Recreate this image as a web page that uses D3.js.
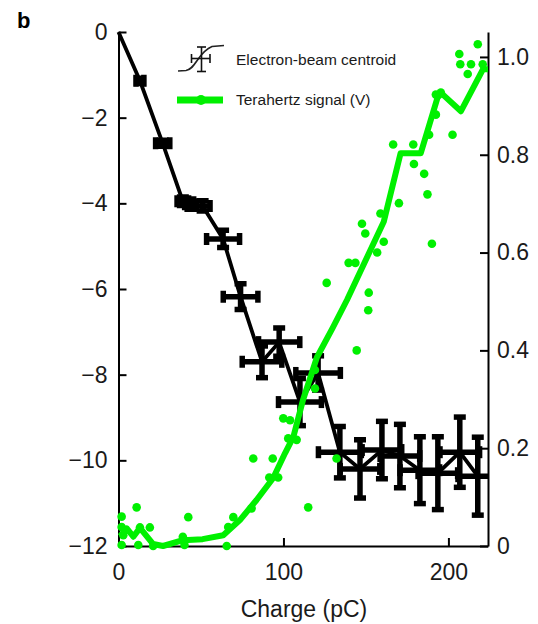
<!DOCTYPE html>
<html>
<head>
<meta charset="utf-8">
<script src="https://cdn.jsdelivr.net/npm/d3@7"></script>
<style>
  body { margin: 0; background: #fff; }
  svg { font-family: "Liberation Sans", Arial, sans-serif; }
</style>
</head>
<body>
<div id="chart"></div>
<script>
// electron-beam centroid (left axis) with x/y error bars
let beamCharge = [0, 13.0, 26.8, 39, 43.6, 51, 63.4, 74, 87, 97.4, 110, 121, 134.2, 146.4, 159.7, 170.6, 182.7, 193.6, 206.9, 217.8];
let beamCentroid = [0, -1.14, -2.6, -3.95, -4.02, -4.06, -4.83, -6.18, -7.7, -7.24, -8.64, -7.96, -9.81, -10.2, -9.76, -9.9, -10.23, -10.3, -9.81, -10.37];
let beamChargeErr = [0, 2.4, 4.3, 3.5, 3.5, 4.5, 10, 10.5, 12, 12.5, 13, 13.5, 13, 12, 12, 12, 12, 12, 12, 12];
let beamCentroidErr = [0, 0.06, 0.07, 0.1, 0.12, 0.12, 0.2, 0.3, 0.37, 0.33, 0.55, 0.4, 0.6, 0.68, 0.67, 0.74, 0.78, 0.85, 0.82, 0.91];

// terahertz signal line (right axis)
let thzLineCharge = [1, 5, 9, 13, 21, 27, 39, 51, 63.5, 73.6, 83.7, 93.8, 101, 106, 111.8, 120.3, 130, 138.5, 160.8, 171, 183.2, 193.4, 196, 207.6, 221, 224];
let thzLineV = [0.02, 0.036, 0.019, 0.037, 0.004, 0.0, 0.012, 0.014, 0.022, 0.053, 0.094, 0.139, 0.19, 0.223, 0.298, 0.386, 0.447, 0.503, 0.663, 0.803, 0.803, 0.917, 0.925, 0.889, 0.975, 0.975];

// terahertz signal raw points
let thzDotCharge = [1.9, 1.9, 2.9, 1.9, 11, 13, 19, 12, 21, 42.3, 39, 40, 65.6, 69.6, 66.5, 81.7, 93.5, 91.4, 96.8, 102.9, 108, 104, 151.4, 144.4, 119.1, 119.1, 99.9, 115, 132.2, 80.7,
  217.8, 206.6, 207.2, 213.7, 220.8, 211.7, 192.4, 195.4, 192.4, 188.3, 202.5, 166.5, 178.7, 179.1, 185.3, 187.3, 170, 190, 158.8, 147.6, 149.6, 160.8, 156.8, 139.5, 143.6, 126.2, 151.7];
let thzDotV = [0.06, 0.039, 0.022, 0.002, 0.079, 0.038, 0.038, 0.002, 0, 0.059, 0.019, 0.002, 0, 0.059, 0.039, 0.179, 0.179, 0.14, 0.14, 0.22, 0.217, 0.257, 0.482, 0.4, 0.36, 0.322, 0.261, 0.079, 0.179, 0.077,
  1.026, 1.006, 0.985, 0.985, 0.985, 0.965, 0.923, 0.927, 0.882, 0.841, 0.841, 0.821, 0.821, 0.781, 0.761, 0.719, 0.701, 0.618, 0.68, 0.659, 0.639, 0.622, 0.6, 0.579, 0.579, 0.538, 0.518];

let xTicks = [0, 100, 200];
let leftTicks = [0, -2, -4, -6, -8, -10, -12];
let rightTicks = [0, 0.2, 0.4, 0.6, 0.8, 1.0];

let green = "#00f000";

let svg = d3.select("#chart").append("svg")
    .attr("width", 538)
    .attr("height", 624);

let x = d3.scaleLinear().domain([0, 224]).range([118.5, 488]);
let yL = d3.scaleLinear().domain([-12, 0]).range([546, 32]);
let yR = d3.scaleLinear().domain([0, 1.051]).range([546, 32]);

// clip marks to plot area
svg.append("clipPath").attr("id", "plotClip")
    .append("rect")
    .attr("x", x.range()[0]).attr("y", 20)
    .attr("width", x.range()[1] - x.range()[0]).attr("height", 540);

// Axes (ticks pointing inward)
let axisL = d3.axisLeft(yL).tickValues(leftTicks).tickSizeInner(-8).tickSizeOuter(0).tickPadding(11).tickFormat(d3.format("d"));
let axisR = d3.axisRight(yR).tickValues(rightTicks).tickSizeInner(-8).tickSizeOuter(0).tickPadding(9)
    .tickFormat(d => d === 0 ? "0" : d3.format(".1f")(d));
let axisB = d3.axisBottom(x).tickValues(xTicks).tickSizeInner(-8).tickSizeOuter(0).tickPadding(18);

function styleAxis(g) {
    g.select(".domain").attr("stroke", "#000").attr("stroke-width", 2);
    g.selectAll(".tick line").attr("stroke", "#000").attr("stroke-width", 2);
    g.selectAll(".tick text").attr("fill", "#1a1a1a").style("font-size", "23px");
    g.attr("font-family", null).attr("font-size", null);
}

svg.append("g").attr("transform", "translate(" + x.range()[0] + ",0)").call(axisL).call(styleAxis);
svg.append("g").attr("transform", "translate(" + x.range()[1] + ",0)").call(axisR).call(styleAxis);
svg.append("g").attr("transform", "translate(0,546)").call(axisB).call(styleAxis);

// Electron-beam centroid: error bars + line
let beam = beamCharge.map((c, i) => ({c: c, y: beamCentroid[i], ex: beamChargeErr[i], ey: beamCentroidErr[i]}));
let capHalf = 6;
let bars = svg.append("g")
    .attr("clip-path", "url(#plotClip)")
    .attr("stroke", "#000")
    .attr("stroke-width", 5.5);

beam.filter(d => d.ex > 0).forEach(function (d) {
    let cx = x(d.c), cy = yL(d.y);
    let x0 = x(d.c - d.ex), x1 = x(d.c + d.ex);
    let y0 = yL(d.y - d.ey), y1 = yL(d.y + d.ey);
    bars.append("line").attr("x1", x0).attr("x2", x1).attr("y1", cy).attr("y2", cy);
    bars.append("line").attr("x1", cx).attr("x2", cx).attr("y1", y0).attr("y2", y1);
    // caps
    bars.append("line").attr("x1", x0).attr("x2", x0).attr("y1", cy - capHalf).attr("y2", cy + capHalf);
    bars.append("line").attr("x1", x1).attr("x2", x1).attr("y1", cy - capHalf).attr("y2", cy + capHalf);
    bars.append("line").attr("x1", cx - capHalf).attr("x2", cx + capHalf).attr("y1", y0).attr("y2", y0);
    bars.append("line").attr("x1", cx - capHalf).attr("x2", cx + capHalf).attr("y1", y1).attr("y2", y1);
});

let beamLine = d3.line().x(d => x(d.c)).y(d => yL(d.y));
svg.append("path")
    .datum(beam)
    .attr("fill", "none")
    .attr("stroke", "#000")
    .attr("stroke-width", 3.8)
    .attr("d", beamLine);

// Terahertz signal: line + dots
let thzLine = thzLineCharge.map((c, i) => ({c: c, v: thzLineV[i]}));
let thzDots = thzDotCharge.map((c, i) => ({c: c, v: thzDotV[i]}));

svg.append("path")
    .datum(thzLine)
    .attr("fill", "none")
    .attr("stroke", green)
    .attr("stroke-width", 6)
    .attr("stroke-linejoin", "round")
    .attr("d", d3.line().x(d => x(d.c)).y(d => yR(d.v)));

svg.append("g").selectAll("circle")
    .data(thzDots)
    .join("circle")
    .attr("cx", d => x(d.c))
    .attr("cy", d => yR(d.v))
    .attr("r", 4.3)
    .attr("fill", green);

// Legend
let leg = svg.append("g");
leg.append("path")
    .attr("d", "M178,71 L186,70.5 C196,69 198,52 212,46.5 L224,45.5")
    .attr("fill", "none").attr("stroke", "#222").attr("stroke-width", 1.6);
leg.append("g").attr("stroke", "#111").attr("stroke-width", 1.6).call(g => {
    g.append("line").attr("x1", 191.5).attr("x2", 210).attr("y1", 58.5).attr("y2", 58.5);
    g.append("line").attr("x1", 201.5).attr("x2", 201.5).attr("y1", 47).attr("y2", 71.5);
    g.append("line").attr("x1", 191.5).attr("x2", 191.5).attr("y1", 54).attr("y2", 63);
    g.append("line").attr("x1", 210).attr("x2", 210).attr("y1", 54).attr("y2", 63);
    g.append("line").attr("x1", 197).attr("x2", 206).attr("y1", 47).attr("y2", 47);
    g.append("line").attr("x1", 197).attr("x2", 206).attr("y1", 71.5).attr("y2", 71.5);
});
leg.append("line").attr("x1", 177).attr("x2", 223).attr("y1", 100).attr("y2", 100)
    .attr("stroke", green).attr("stroke-width", 7);
leg.append("circle").attr("cx", 201).attr("cy", 100).attr("r", 5).attr("fill", green);

leg.append("text").attr("x", 236).attr("y", 65).style("font-size", "15.5px").attr("fill", "#1a1a1a")
    .text("Electron-beam centroid");
leg.append("text").attr("x", 236).attr("y", 105).style("font-size", "15.5px").attr("fill", "#1a1a1a")
    .text("Terahertz signal (V)");

// Axis title and panel letter
svg.append("text")
    .attr("x", 304).attr("y", 617)
    .attr("text-anchor", "middle")
    .style("font-size", "23px")
    .attr("fill", "#1a1a1a")
    .text("Charge (pC)");

svg.append("text")
    .attr("x", 17).attr("y", 28)
    .style("font-size", "22px")
    .style("font-weight", "bold")
    .text("b");
</script>
</body>
</html>
